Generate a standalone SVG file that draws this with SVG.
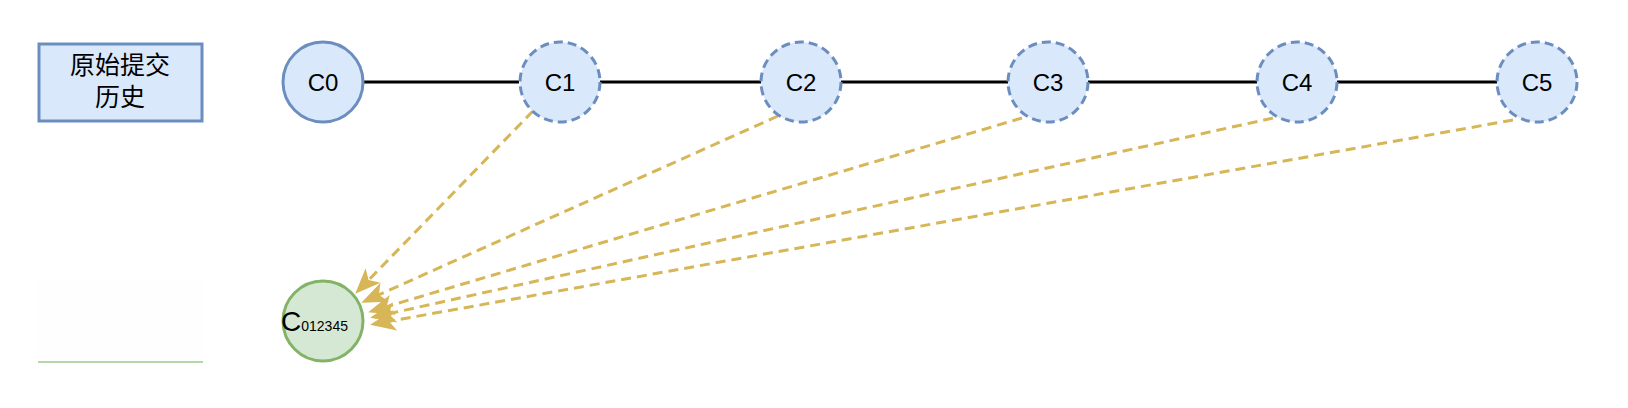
<svg xmlns="http://www.w3.org/2000/svg" width="1628" height="408" viewBox="0 0 1628 408">
<style>
text{font-family:"Liberation Sans","Noto Sans CJK SC",sans-serif;fill:#000}
.n{fill:#dae8fc;stroke:#6c8ebf;stroke-width:3}
.d{stroke-dasharray:9 5}
.e{stroke:#000;stroke-width:3}
.a{stroke:#d6b656;stroke-width:3;stroke-dasharray:10 6;fill:none;marker-end:url(#ah)}
.l{font-size:24px;text-anchor:middle}
</style>
<defs><marker id="ah" viewBox="0 0 10 10" refX="9" refY="5" markerWidth="8" markerHeight="8" markerUnits="userSpaceOnUse" orient="auto" style="overflow:visible"><path d="M-18,-8 L14,5 L-18,18 L-10,5 Z" fill="#d6b656"/></marker></defs>
<g id="legend1"><rect x="39" y="44" width="163" height="77" fill="#dae8fc" stroke="#6c8ebf" stroke-width="3"/><text x="120" y="74" font-size="25" text-anchor="middle">原始提交</text><text x="120" y="106" font-size="25" text-anchor="middle">历史</text></g>
<g id="legend2"><rect x="38" y="280" width="165" height="82" fill="#fefefe"/><line x1="38" y1="362" x2="203" y2="362" stroke="#b7d7a8" stroke-width="2"/></g>
<g id="connectors">
<line class="e" x1="363" y1="82" x2="519" y2="82"/><line class="e" x1="600" y1="82" x2="761" y2="82"/><line class="e" x1="841" y1="82" x2="1008" y2="82"/><line class="e" x1="1088" y1="82" x2="1257" y2="82"/><line class="e" x1="1337" y1="82" x2="1497" y2="82"/>
<line class="a" x1="533" y1="111" x2="358" y2="291"/>
<line class="a" x1="778" y1="116" x2="365" y2="301"/>
<line class="a" x1="1022" y1="118" x2="372" y2="311"/>
<line class="a" x1="1273" y1="118" x2="374" y2="317"/>
<line class="a" x1="1513" y1="120" x2="374" y2="324"/>
</g>
<g id="C0"><circle class="n" cx="323" cy="82" r="40"/><text class="l" x="323" y="91">C0</text></g>
<g id="C1"><circle class="n d" cx="560" cy="82" r="40"/><text class="l" x="560" y="91">C1</text></g>
<g id="C2"><circle class="n d" cx="801" cy="82" r="40"/><text class="l" x="801" y="91">C2</text></g>
<g id="C3"><circle class="n d" cx="1048" cy="82" r="40"/><text class="l" x="1048" y="91">C3</text></g>
<g id="C4"><circle class="n d" cx="1297" cy="82" r="40"/><text class="l" x="1297" y="91">C4</text></g>
<g id="C5"><circle class="n d" cx="1537" cy="82" r="40"/><text class="l" x="1537" y="91">C5</text></g>
<g id="C012345"><circle cx="323" cy="321" r="40" fill="#d5e8d4" stroke="#82b366" stroke-width="3"/><text x="281" y="331" font-size="28">C<tspan font-size="14">012345</tspan></text></g>
</svg>
